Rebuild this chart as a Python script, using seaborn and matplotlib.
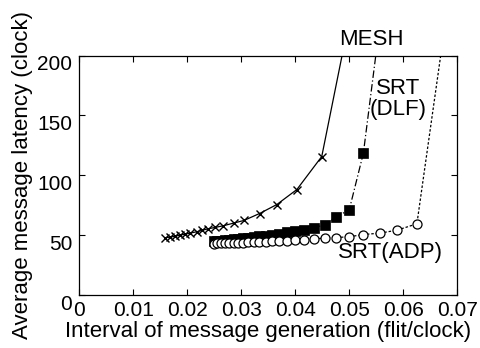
import matplotlib
matplotlib.use("Agg")
import matplotlib.pyplot as plt
import matplotlib.transforms as mtransforms
import seaborn as sns
import pandas as pd

# ---- data ----
mesh_x = [0.0159, 0.0168, 0.0178, 0.0187, 0.0196, 0.0205, 0.0218, 0.0227, 0.0239,
          0.0252, 0.0267, 0.0286, 0.0305, 0.0334, 0.0366, 0.0403, 0.0449, 0.0500]
mesh_y = [48.1, 48.6, 49.4, 50.3, 51.1, 51.9, 53.1, 54.2, 55.6,
          56.7, 58.1, 60.3, 62.5, 68.3, 75.8, 88.3, 115.8, 230.0]

dlf_x = [0.0250, 0.0256, 0.0263, 0.0270, 0.0278, 0.0286, 0.0294, 0.0303, 0.0313,
         0.0323, 0.0333, 0.0345, 0.0357, 0.0370, 0.0385, 0.0400, 0.0417, 0.0435,
         0.0455, 0.0476, 0.0500, 0.0526, 0.0556]
dlf_y = [45.0, 45.3, 45.6, 45.9, 46.3, 46.7, 47.1, 47.6, 48.1,
         48.6, 49.2, 49.8, 50.5, 51.3, 52.5, 53.9, 54.2, 56.5,
         59.0, 65.3, 71.6, 118.6, 225.0]

adp_x = [0.0250, 0.0256, 0.0263, 0.0270, 0.0278, 0.0286, 0.0294, 0.0303, 0.0313,
         0.0323, 0.0333, 0.0345, 0.0357, 0.0370, 0.0385, 0.0400, 0.0417, 0.0435,
         0.0455, 0.0476, 0.0500, 0.0526, 0.0556, 0.0588, 0.0625, 0.0680]
adp_y = [43.3, 43.4, 43.5, 43.6, 43.7, 43.8, 43.9, 44.0, 44.2,
         44.4, 44.6, 44.9, 45.2, 45.5, 45.8, 46.0, 46.4, 47.2,
         47.8, 48.3, 48.9, 50.8, 51.9, 54.4, 59.7, 235.0]

x_ticks = [0, 0.01, 0.02, 0.03, 0.04, 0.05, 0.06, 0.07]
x_tick_labels = ["0", "0.01", "0.02", "0.03", "0.04", "0.05", "0.06", "0.07"]
y_ticks = [0, 50, 100, 150, 200]
y_tick_labels = ["0", "50", "100", "150", "200"]

sns.set_style("ticks")
plt.rcParams['font.family'] = ['Liberation Sans', 'DejaVu Sans']
plt.rcParams['text.color'] = 'black'
plt.rcParams['axes.labelcolor'] = 'black'
TFS = 15
LFS = 16

fig = plt.figure(figsize=(4.8, 3.48), dpi=100)
ax = fig.add_axes([0.1646, 0.151, 0.953 - 0.1646, 0.8405 - 0.151])

df_mesh = pd.DataFrame({"x": mesh_x, "y": mesh_y})
df_dlf = pd.DataFrame({"x": dlf_x, "y": dlf_y})
df_adp = pd.DataFrame({"x": adp_x, "y": adp_y})

sns.lineplot(data=df_mesh, x="x", y="y", ax=ax, sort=False, estimator=None,
             color="black", linewidth=0.9, linestyle="-", marker="x",
             markersize=6, markeredgewidth=1.0, markeredgecolor="black")
sns.lineplot(data=df_dlf, x="x", y="y", ax=ax, sort=False, estimator=None,
             color="black", linewidth=0.9, linestyle=(0, (6, 2, 1, 2)), marker="s",
             markersize=7, markerfacecolor="black", markeredgecolor="black",
             markeredgewidth=0.5)
sns.lineplot(data=df_adp, x="x", y="y", ax=ax, sort=False, estimator=None,
             color="black", linewidth=0.9, linestyle=(0, (2, 1.5)), marker="o",
             markersize=6.5, markerfacecolor="white", markeredgecolor="black",
             markeredgewidth=0.9)

ax.set_xlim(0, 0.07)
ax.set_ylim(0, 200)
ax.set_xticks(x_ticks)
ax.set_xticklabels(x_tick_labels, fontsize=TFS)
ax.set_yticks(y_ticks)
ax.set_yticklabels(y_tick_labels, fontsize=TFS)

for s in ax.spines.values():
    s.set_visible(True)
    s.set_linewidth(0.9)
    s.set_color("black")
ax.tick_params(direction="in", length=4, width=0.8, top=True, right=True,
               colors="black", labelcolor="black", pad=4)
ax.tick_params(axis="y", pad=5)

# MATLAB-export look: y tick labels sit a bit below their ticks
offset = mtransforms.ScaledTranslation(0, -7 / 100, fig.dpi_scale_trans)
for lab in ax.get_yticklabels():
    lab.set_transform(lab.get_transform() + offset)

ax.set_xlabel("Interval of message generation (flit/clock)", fontsize=LFS, labelpad=1)
ax.set_ylabel("Average message latency (clock)", fontsize=LFS, labelpad=3)

ax.text(0.0540, 213.5, "MESH", fontsize=LFS, ha="center", va="center", clip_on=False)
ax.text(0.0590, 164, "SRT\n(DLF)", fontsize=LFS, ha="center", va="center",
        multialignment="center", linespacing=1.0)
ax.text(0.0576, 35.4, "SRT(ADP)", fontsize=LFS, ha="center", va="center")

fig.savefig("out.png", dpi=100)
